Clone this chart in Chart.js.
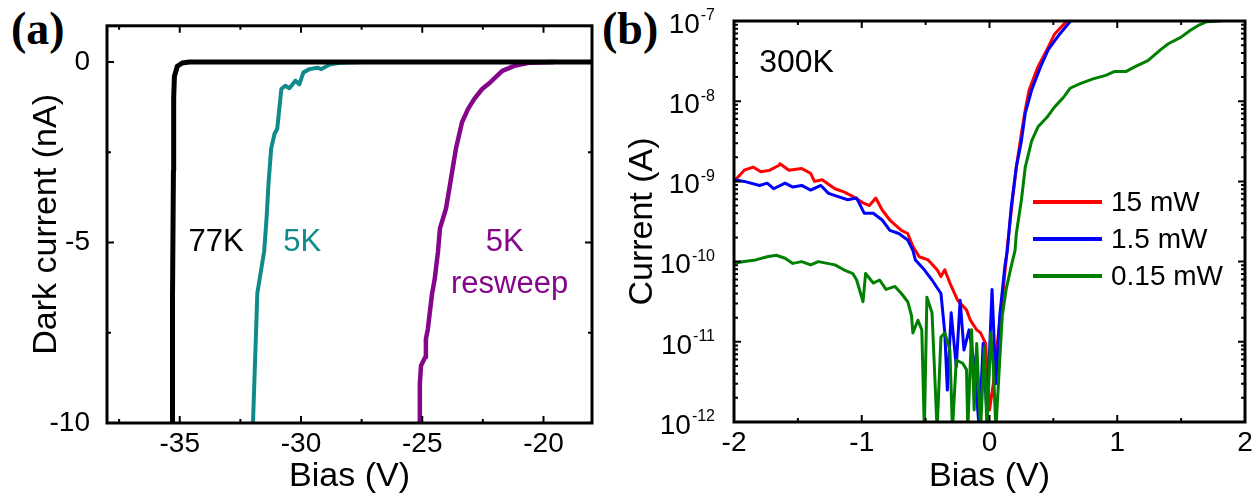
<!DOCTYPE html>
<html>
<head>
<meta charset="utf-8">
<title>Dark current / photocurrent vs bias</title>
<script src="https://cdn.jsdelivr.net/npm/chart.js@4.4.1/dist/chart.umd.min.js"></script>
<style>
  body { margin: 0; background: #fff; width: 1260px; height: 499px; position: relative; overflow: hidden; }
  .pane { position: absolute; top: 0; }
  #paneA { left: 0; }
  #paneB { left: 620px; }
  .tag { position: absolute; top: 2px; font: bold 46px 'Liberation Serif', 'Times New Roman', serif; color: #000; }
</style>
</head>
<body>
<div class="tag" style="left:11px">(a)</div>
<div class="tag" style="left:602px">(b)</div>
<div class="pane" id="paneA"><canvas id="chartA" width="620" height="499"></canvas></div>
<div class="pane" id="paneB"><canvas id="chartB" width="640" height="499"></canvas></div>

<script>
// ---- panel (a): dark current (nA) vs bias (V) ----
const bias77K = [-35.34, -35.30, -35.30, -35.26, -35.25, -35.22, -35.10, -34.90, -34.60, -18.0];
const cur77K  = [-10.5, -10.0, -6.6, -3.0, -1.0, -0.40, -0.12, -0.03, 0, 0];

const bias5K = [-32.0, -31.98, -31.80, -31.52, -31.42, -31.34, -31.23, -31.09, -30.98, -30.81, -30.65,
                -30.48, -30.23, -30.07, -29.90, -29.65, -29.32, -29.16, -28.82, -28.33, -27.5];
const cur5K  = [-10.5, -10.0, -6.40, -5.25, -4.33, -3.37, -2.40, -1.99, -1.85, -0.75, -0.66,
                -0.73, -0.52, -0.62, -0.29, -0.20, -0.16, -0.20, -0.07, -0.02, 0];

const biasResweep = [-25.15, -25.13, -25.10, -25.05, -24.88, -24.85, -24.77, -24.60, -24.49, -24.35, -24.27,
                     -24.02, -23.61, -23.36, -23.11, -22.86, -22.53, -22.20, -21.70, -21.20, -20.55, -19.55];
const curResweep  = [-10.5, -10.0, -8.92, -8.41, -8.18, -7.68, -7.40, -6.44, -6.03, -5.25, -4.61,
                     -4.06, -2.40, -1.67, -1.30, -1.03, -0.75, -0.57, -0.25, -0.11, -0.02, 0];

const xMajorA = [-35, -30, -25, -20];
const xMinorA = [-37.5, -32.5, -27.5, -22.5];
const yMajorA = [-10, -5, 0];
const yMinorA = [-7.5, -2.5];

// ---- panel (b): current (A) vs bias (V), 300K ----
const bias15 = [-2.0, -1.92, -1.85, -1.79, -1.72, -1.65, -1.64, -1.57, -1.47, -1.40, -1.37, -1.31, -1.21, -1.14,
                -1.07, -0.99, -0.94, -0.89, -0.84, -0.78, -0.69, -0.64, -0.60, -0.55, -0.48, -0.41, -0.38, -0.35,
                -0.31, -0.25, -0.18, -0.15, -0.10, -0.07, -0.03, 0.0, 0.03, 0.07, 0.10, 0.13, 0.14, 0.18, 0.21,
                0.25, 0.28, 0.31, 0.38, 0.45, 0.51, 0.60, 0.70];
const cur15  = [1.0e-9, 1.38e-9, 1.51e-9, 1.32e-9, 1.38e-9, 1.58e-9, 1.66e-9, 1.38e-9, 1.45e-9, 1.26e-9, 1.0e-9, 1.05e-9, 8.1e-10, 7.4e-10,
                6.5e-10, 5.4e-10, 5.0e-10, 6.2e-10, 4.4e-10, 3.3e-10, 2.45e-10, 2.24e-10, 1.55e-10, 1.15e-10, 1.05e-10, 7.9e-11, 6.5e-11, 7.9e-11,
                5.4e-11, 3.3e-11, 2.5e-11, 1.86e-11, 1.41e-11, 1.29e-11, 9.5e-12, 1.41e-12, 3.0e-12, 1.29e-11, 3.3e-11, 1.05e-10, 1.55e-10, 5.9e-10, 1.51e-9,
                3.98e-9, 7.8e-9, 1.38e-8, 2.7e-8, 4.4e-8, 6.9e-8, 9.8e-8, 1.3e-7];

const bias1p5 = [-2.0, -1.92, -1.80, -1.74, -1.69, -1.60, -1.54, -1.47, -1.40, -1.32, -1.26, -1.19, -1.11, -1.04,
                 -0.98, -0.91, -0.84, -0.78, -0.71, -0.64, -0.60, -0.58, -0.51, -0.45, -0.38, -0.35, -0.33, -0.30,
                 -0.26, -0.23, -0.20, -0.16, -0.12, -0.08, -0.05, -0.02, 0.02, 0.05, 0.08, 0.12, 0.14, 0.17, 0.21,
                 0.25, 0.28, 0.33, 0.40, 0.46, 0.55, 0.63, 0.70];
const cur1p5  = [1.05e-9, 1.0e-9, 8.9e-10, 9.5e-10, 8.1e-10, 9.5e-10, 8.5e-10, 8.9e-10, 7.8e-10, 8.9e-10, 7.1e-10, 6.5e-10, 5.9e-10, 6.2e-10,
                 4.0e-10, 4.0e-10, 3.3e-10, 2.45e-10, 2.24e-10, 1.86e-10, 1.38e-10, 1.05e-10, 7.9e-11, 5.9e-11, 4.0e-11, 1.29e-11, 2.5e-12, 2.3e-11,
                 4.9e-12, 3.3e-11, 7.9e-12, 1.41e-11, 5.4e-12, 8e-13, 9.5e-12, 1.2e-12, 4.5e-11, 3.0e-12, 2.1e-11, 8.7e-11, 1.38e-10, 4.8e-10, 1.51e-9,
                 3.2e-9, 7.1e-9, 1.38e-8, 2.7e-8, 4.4e-8, 6.9e-8, 9.8e-8, 1.3e-7];

const bias0p15 = [-2.0, -1.92, -1.83, -1.74, -1.67, -1.60, -1.54, -1.47, -1.40, -1.34, -1.27, -1.21, -1.14, -1.07,
                  -1.04, -0.99, -0.97, -0.91, -0.86, -0.81, -0.74, -0.69, -0.64, -0.61, -0.60, -0.56, -0.53, -0.51,
                  -0.49, -0.45, -0.41, -0.38, -0.35, -0.31, -0.29, -0.26, -0.21, -0.18, -0.17, -0.14, -0.12, -0.10,
                  -0.07, -0.04, -0.02, 0.01, 0.03, 0.05, 0.08, 0.10, 0.13, 0.17, 0.20, 0.21, 0.25, 0.28, 0.33, 0.38,
                  0.45, 0.51, 0.58, 0.63, 0.71, 0.81, 0.91, 0.98, 1.07, 1.14, 1.24, 1.34, 1.40, 1.50, 1.57, 1.64,
                  1.70, 1.80, 1.90];
const cur0p15  = [9.5e-11, 1.0e-10, 1.05e-10, 1.15e-10, 1.2e-10, 1.1e-10, 9.5e-11, 1.0e-10, 9.1e-11, 1.0e-10, 9.5e-11, 9.1e-11, 7.9e-11, 7.1e-11,
                  5.9e-11, 3.16e-11, 7.1e-11, 5.4e-11, 5.9e-11, 4.5e-11, 4.9e-11, 4.0e-11, 3.16e-11, 2.1e-11, 1.29e-11, 1.86e-11, 1.41e-11, 8e-13,
                  3.6e-11, 2.3e-11, 8e-13, 1.15e-11, 1.29e-11, 7.9e-12, 8e-13, 5.9e-12, 5.4e-12, 4.5e-12, 8e-13, 1.41e-11, 1.41e-12, 9.5e-12,
                  8e-13, 8.7e-12, 8e-13, 1.29e-11, 4.9e-12, 8e-13, 5.9e-12, 2.1e-11, 4.5e-11, 8.7e-11, 1.38e-10, 2.24e-10, 5.9e-10, 1.51e-9, 3.2e-9, 4.8e-9,
                  6.3e-9, 8.5e-9, 1.12e-8, 1.45e-8, 1.66e-8, 1.9e-8, 2.1e-8, 2.35e-8, 2.35e-8, 2.7e-8, 3.2e-8, 4.4e-8, 5.2e-8, 6.3e-8, 7.6e-8, 8.9e-8,
                  9.8e-8, 1.0e-7, 1.1e-7];

const xMajorB = [-2, -1, 0, 1, 2];
const xMinorB = [-1.5, -0.5, 0.5, 1.5];
const yMajorB = [1e-12, 1e-11, 1e-10, 1e-9, 1e-8, 1e-7];
const decadesB = [1e-12, 1e-11, 1e-10, 1e-9, 1e-8];
const mantissas = [2, 3, 4, 5, 6, 7, 8, 9];
const yMinorB = [];
decadesB.forEach(d => mantissas.forEach(m => yMinorB.push(m * d)));

const SANS = "'Liberation Sans', Arial, sans-serif";
Chart.defaults.font.family = SANS;
Chart.defaults.color = '#000';

const pts = (xs, ys) => xs.map((x, i) => ({ x: x, y: ys[i] }));
const fixTicks = vals => scale => { scale.ticks = vals.map(v => ({ value: v })); };

// frame round the plot area, with inward ticks on all four sides
const framePlugin = {
    id: 'frame',
    afterDatasetsDraw(chart, args, o) {
        const { ctx, chartArea: a, scales } = chart;
        const x = scales.x, y = scales.y;
        ctx.save();
        ctx.strokeStyle = '#000';
        ctx.lineWidth = 2;
        const xt = (vals, len) => vals.forEach(v => {
            const p = x.getPixelForValue(v);
            ctx.beginPath();
            ctx.moveTo(p, a.bottom); ctx.lineTo(p, a.bottom - len);
            ctx.moveTo(p, a.top); ctx.lineTo(p, a.top + len);
            ctx.stroke();
        });
        const yt = (vals, len) => vals.forEach(v => {
            const p = y.getPixelForValue(v);
            ctx.beginPath();
            ctx.moveTo(a.left, p); ctx.lineTo(a.left + len, p);
            ctx.moveTo(a.right, p); ctx.lineTo(a.right - len, p);
            ctx.stroke();
        });
        xt(o.xMajor, 7); xt(o.xMinor, 4);
        yt(o.yMajor, 7); yt(o.yMinor, 4);
        ctx.lineWidth = 3;
        ctx.strokeRect(a.left, a.top, a.right - a.left, a.bottom - a.top);
        ctx.restore();
    }
};

// 10^n labels of a log axis, exponent raised and smaller
const powLabels = {
    id: 'powLabels',
    afterDraw(chart, args, o) {
        if (!o.show) return;
        const { ctx, chartArea: a, scales } = chart;
        const y = scales.y;
        ctx.save();
        ctx.fillStyle = '#000';
        ctx.textAlign = 'right';
        ctx.textBaseline = 'middle';
        y.ticks.forEach(t => {
            const p = y.getPixelForValue(t.value) + o.shift;
            const ex = String(Math.round(Math.log10(t.value)));
            const xr = a.left - o.pad;
            ctx.font = o.expFont;
            const w = ctx.measureText(ex).width;
            ctx.fillText(ex, xr, p - 8);
            ctx.font = o.font;
            ctx.fillText('10', xr - w - 1, p + 1);
        });
        ctx.restore();
    }
};

// text placed in data coordinates
const notesPlugin = {
    id: 'notes',
    afterDraw(chart, args, o) {
        const { ctx, scales } = chart;
        ctx.save();
        ctx.textAlign = 'center';
        ctx.textBaseline = 'middle';
        (o.items || []).forEach(n => {
            ctx.font = n.font;
            ctx.fillStyle = n.color;
            ctx.fillText(n.text, scales.x.getPixelForValue(n.x), scales.y.getPixelForValue(n.y));
        });
        ctx.restore();
    }
};

// legend inside the plot area (panel b)
const insideLegend = {
    id: 'insideLegend',
    afterDraw(chart, args, o) {
        if (!o.show) return;
        const { ctx, chartArea: a } = chart;
        ctx.save();
        ctx.font = o.font;
        ctx.textBaseline = 'middle';
        chart.data.datasets.forEach((ds, i) => {
            const yy = a.top + o.top + i * o.gap;
            const x0 = a.left + o.left;
            ctx.strokeStyle = ds.borderColor;
            ctx.lineWidth = 4;
            ctx.beginPath(); ctx.moveTo(x0, yy); ctx.lineTo(x0 + o.len, yy); ctx.stroke();
            ctx.fillStyle = '#000';
            ctx.fillText(ds.label, x0 + o.len + 9, yy + 1);
        });
        ctx.restore();
    }
};

const lineDs = (label, xs, ys, color, w, order) => ({
    label: label, data: pts(xs, ys), borderColor: color, backgroundColor: color,
    borderWidth: w, pointRadius: 0, tension: 0, borderJoinStyle: 'round', borderCapStyle: 'butt', order: order
});

new Chart(document.getElementById('chartA'), {
    type: 'line',
    data: {
        datasets: [
            lineDs('77K', bias77K, cur77K, '#000000', 5, 1),
            lineDs('5K', bias5K, cur5K, '#0f8b8b', 4, 2),
            lineDs('5K resweep', biasResweep, curResweep, '#85068a', 4.5, 3)
        ]
    },
    options: {
        responsive: false, animation: false,
        layout: { padding: { left: 0, top: 22, right: 28, bottom: 0 } },
        plugins: {
            legend: { display: false }, tooltip: { enabled: false },
            frame: { xMajor: xMajorA, xMinor: xMinorA, yMajor: yMajorA, yMinor: yMinorA },
            notes: { items: [
                { text: '77K', x: -33.5, y: -5.0, color: '#000', font: '31px ' + SANS },
                { text: '5K', x: -29.95, y: -5.0, color: '#0f8b8b', font: '31px ' + SANS },
                { text: '5K', x: -21.6, y: -5.0, color: '#85068a', font: '31px ' + SANS },
                { text: 'resweep', x: -21.4, y: -6.15, color: '#85068a', font: '31px ' + SANS }
            ] },
            powLabels: { show: false },
            insideLegend: { show: false }
        },
        scales: {
            x: {
                type: 'linear', min: -38, max: -18,
                afterBuildTicks: fixTicks(xMajorA),
                afterFit: s => { s.height = 76; },
                grid: { display: false }, border: { display: false },
                ticks: { font: { size: 28 }, padding: -4, maxRotation: 0 },
                title: { display: true, text: 'Bias (V)', font: { size: 34 }, padding: { top: 0, bottom: 2 } }
            },
            y: {
                type: 'linear', min: -10, max: 1,
                afterBuildTicks: fixTicks(yMajorA),
                afterFit: s => { s.width = 107; },
                grid: { display: false }, border: { display: false },
                ticks: { font: { size: 28 }, padding: 9 },
                title: { display: true, text: 'Dark current (nA)', font: { size: 34 }, padding: { top: 26, bottom: 0 } }
            }
        }
    },
    plugins: [framePlugin, notesPlugin, insideLegend, powLabels]
});

new Chart(document.getElementById('chartB'), {
    type: 'line',
    data: {
        datasets: [
            lineDs('15 mW', bias15, cur15, '#ff0000', 3, 3),
            lineDs('1.5 mW', bias1p5, cur1p5, '#0000ff', 3, 2),
            lineDs('0.15 mW', bias0p15, cur0p15, '#007f00', 3, 1)
        ]
    },
    options: {
        responsive: false, animation: false,
        layout: { padding: { left: 0, top: 21, right: 15, bottom: 0 } },
        plugins: {
            legend: { display: false }, tooltip: { enabled: false },
            frame: { xMajor: xMajorB, xMinor: xMinorB, yMajor: yMajorB, yMinor: yMinorB },
            notes: { items: [
                { text: '300K', x: -1.51, y: 3e-8, color: '#000', font: '32px ' + SANS }
            ] },
            powLabels: { show: true, font: '28px ' + SANS, expFont: '16px ' + SANS, pad: 19, shift: 3 },
            insideLegend: { show: true, font: '28px ' + SANS, top: 181, gap: 37, left: 299, len: 69 }
        },
        scales: {
            x: {
                type: 'linear', min: -2, max: 2,
                afterBuildTicks: fixTicks(xMajorB),
                afterFit: s => { s.height = 77; },
                grid: { display: false }, border: { display: false },
                ticks: { font: { size: 28 }, padding: -4, maxRotation: 0 },
                title: { display: true, text: 'Bias (V)', font: { size: 34 }, padding: { top: 0, bottom: 2 } }
            },
            y: {
                type: 'logarithmic', min: 1e-12, max: 1e-7,
                afterBuildTicks: fixTicks(yMajorB),
                afterFit: s => { s.width = 114; },
                grid: { display: false }, border: { display: false },
                ticks: { display: false },
                title: { display: true, text: 'Current (A)', font: { size: 34 }, padding: { top: 2, bottom: 0 } }
            }
        }
    },
    plugins: [framePlugin, notesPlugin, insideLegend, powLabels]
});
</script>
</body>
</html>
